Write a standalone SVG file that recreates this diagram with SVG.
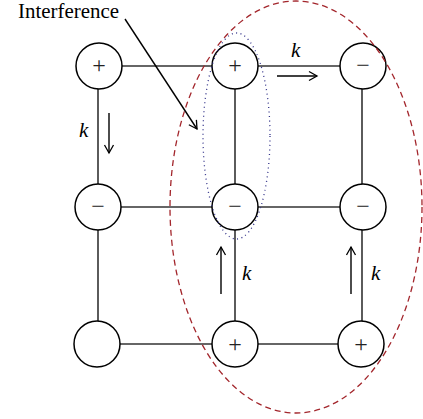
<svg xmlns="http://www.w3.org/2000/svg" width="423" height="419" viewBox="0 0 423 419">
<defs>
<marker id="ah" markerWidth="12" markerHeight="12" refX="9" refY="6" orient="auto" markerUnits="userSpaceOnUse">
<path d="M1,1.5 L9,6 L1,10.5" fill="none" stroke="#000" stroke-width="1.3"/>
</marker>
<style>
.grid{stroke:#333;stroke-width:1.6;fill:none}
.node{fill:#fff;stroke:#000;stroke-width:1.5}
.sign{font-family:"Liberation Serif",serif;font-size:24px;text-anchor:middle;fill:#222}
.k{font-family:"Liberation Serif",serif;font-style:italic;font-size:21px;fill:#000}
.arr{stroke:#000;stroke-width:1.4;fill:none;marker-end:url(#ah)}
</style>
</defs>
<rect width="423" height="419" fill="#fff"/>
<g id="connectors">
<line class="grid" x1="121" y1="66" x2="212" y2="66"/>
<line class="grid" x1="258" y1="66" x2="340" y2="66"/>
<line class="grid" x1="121" y1="207" x2="212" y2="207"/>
<line class="grid" x1="258" y1="207" x2="340" y2="207"/>
<line class="grid" x1="120" y1="344" x2="212" y2="344"/>
<line class="grid" x1="258" y1="344" x2="339" y2="344"/>
<line class="grid" x1="98" y1="89" x2="98" y2="184"/>
<line class="grid" x1="98" y1="230" x2="98" y2="321"/>
<line class="grid" x1="235" y1="89" x2="235" y2="184"/>
<line class="grid" x1="235" y1="230" x2="235" y2="321"/>
<line class="grid" x1="362" y1="89" x2="362" y2="184"/>
<line class="grid" x1="362" y1="230" x2="362" y2="321"/>
</g>
<g id="n00"><circle class="node" cx="99" cy="66" r="23"/><text class="sign" x="99" y="73">+</text></g>
<g id="n01"><circle class="node" cx="235" cy="66" r="23"/><text class="sign" x="235" y="73">+</text></g>
<g id="n02"><circle class="node" cx="363" cy="66" r="23"/><text class="sign" x="363" y="73">−</text></g>
<g id="n10"><circle class="node" cx="98" cy="207" r="23"/><text class="sign" x="98" y="214">−</text></g>
<g id="n11"><circle class="node" cx="235" cy="207" r="23"/><text class="sign" x="235" y="214">−</text></g>
<g id="n12"><circle class="node" cx="363" cy="207" r="23"/><text class="sign" x="363" y="214">−</text></g>
<g id="n20"><circle class="node" cx="97" cy="344" r="23"/></g>
<g id="n21"><circle class="node" cx="235" cy="344" r="23"/><text class="sign" x="235" y="352">+</text></g>
<g id="n22"><circle class="node" cx="361" cy="344" r="23"/><text class="sign" x="361" y="352">+</text></g>
<g id="flows">
<line class="arr" x1="109" y1="113" x2="109" y2="153"/>
<line class="arr" x1="277" y1="76" x2="317" y2="76"/>
<line class="arr" x1="221" y1="294" x2="221" y2="247"/>
<line class="arr" x1="351" y1="294" x2="351" y2="247"/>
<text class="k" x="79" y="137">k</text>
<text class="k" x="291" y="57">k</text>
<text class="k" x="242" y="280">k</text>
<text class="k" x="371" y="280">k</text>
</g>
<g id="regions">
<ellipse cx="296" cy="207" rx="126" ry="206" fill="none" stroke="#a3262c" stroke-width="1.3" stroke-dasharray="6,4"/>
<ellipse cx="236.5" cy="136" rx="33.5" ry="103" fill="none" stroke="#33338a" stroke-width="1.3" stroke-dasharray="1,3.5"/>
</g>
<g id="label">
<text x="18" y="18" font-family="Liberation Serif, serif" font-size="21" textLength="101" lengthAdjust="spacingAndGlyphs" fill="#000">Interference</text>
<line class="arr" x1="125" y1="19" x2="197" y2="129"/>
</g>
</svg>
